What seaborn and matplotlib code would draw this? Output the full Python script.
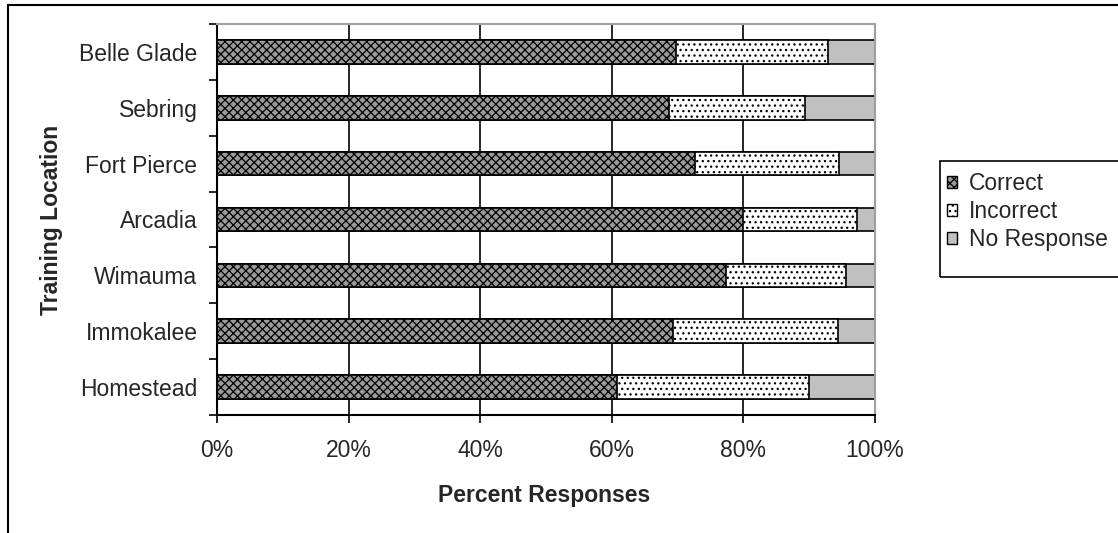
import numpy as np
import pandas as pd
import matplotlib
matplotlib.use("Agg")
import matplotlib.pyplot as plt
import seaborn as sns
from matplotlib.patches import Rectangle, Patch
from matplotlib.ticker import PercentFormatter

locations = ["Belle Glade", "Sebring", "Fort Pierce", "Arcadia", "Wimauma", "Immokalee", "Homestead"]
correct = [69.8, 68.7, 72.7, 79.9, 77.4, 69.3, 60.8]
incorrect = [23.0, 20.7, 21.8, 17.4, 18.2, 25.1, 29.2]
no_response = [7.2, 10.6, 5.5, 2.7, 4.4, 5.6, 10.0]

df = pd.DataFrame({"location": locations, "correct": correct,
                   "incorrect": incorrect, "no_response": no_response})
df["cum_inc"] = df["correct"] + df["incorrect"]
df["total"] = df["cum_inc"] + df["no_response"]

sns.set_style("white")
plt.rcParams["font.family"] = ["Liberation Sans", "DejaVu Sans"]
plt.rcParams["hatch.linewidth"] = 0.9

FS = 16.5
W, H = 1118, 533

fig = plt.figure(figsize=(W / 100, H / 100), dpi=100)
ax = fig.add_axes([0.194, 0.2214, 0.5887, 0.7336])

# stacked bars drawn back-to-front (cumulative totals)
layers = [
    ("total", "#C0C0C0", None),
    ("cum_inc", "white", "..."),
    ("correct", "#9a9a9a", "xxxx"),
]
for col, color, hatch in layers:
    n_before = len(ax.patches)
    sns.barplot(data=df, x=col, y="location", orient="h", color=color,
                width=0.42, edgecolor="black", linewidth=1.2, saturation=1, ax=ax)
    for p in ax.patches[n_before:]:
        p.set_facecolor(color)
        if hatch:
            p.set_hatch(hatch)

ax.set_xlim(0, 100)
ax.set_ylim(6.5, -0.5)
ax.set_xticks(np.arange(0, 101, 20))
ax.xaxis.set_major_formatter(PercentFormatter(decimals=0))
ax.grid(axis="x", color="black", linewidth=1.2)
ax.set_axisbelow(True)

ax.set_yticks(np.arange(-0.5, 7, 1), minor=False)
ax.set_yticklabels([])
ax.set_yticks(np.arange(7), minor=True)
ax.set_yticklabels(locations, minor=True)
ax.tick_params(axis="y", which="major", direction="out", length=5.5, width=1.2, color="black", left=True)
ax.tick_params(axis="y", which="minor", length=0, labelsize=FS, pad=14)
ax.tick_params(axis="x", direction="out", length=5.5, width=1.2, color="black", bottom=True,
               labelsize=FS, pad=12)

for s in ["left", "bottom"]:
    ax.spines[s].set_color("black")
    ax.spines[s].set_linewidth(1.5)
for s in ["top", "right"]:
    ax.spines[s].set_color("#a0a0a0")
    ax.spines[s].set_linewidth(1.5)

ax.set_xlabel("Percent Responses", fontsize=FS, fontweight="bold")
ax.set_ylabel("Training Location", fontsize=FS, fontweight="bold")
ax.xaxis.set_label_coords(0.497, -0.176)
ax.yaxis.set_label_coords(-0.234, 0.5)

handles = [
    Patch(facecolor="#9a9a9a", edgecolor="black", hatch="xxxx", label="Correct"),
    Patch(facecolor="white", edgecolor="black", hatch="...", label="Incorrect"),
    Patch(facecolor="#C0C0C0", edgecolor="black", label="No Response"),
]
leg = fig.legend(handles=handles, loc="upper left", bbox_to_anchor=(947 / W, 1 - 172 / H),
                 fontsize=FS, frameon=False, handlelength=0.45,
                 handleheight=0.45, handletextpad=0.5, labelspacing=0.22,
                 borderaxespad=0, borderpad=0)

# legend box (Excel style, extra space under the last entry)
fig.patches.append(Rectangle((940 / W, 1 - 277 / H), 0.2, 116 / H,
                             transform=fig.transFigure, fill=False,
                             edgecolor="black", linewidth=1.2, clip_on=False))

# outer chart border
fig.patches.append(Rectangle((8 / W, -0.05), 1.1, 1.05 - 5 / H,
                             transform=fig.transFigure, fill=False,
                             edgecolor="black", linewidth=1.5, clip_on=False))

fig.savefig("out.png", dpi=100)
